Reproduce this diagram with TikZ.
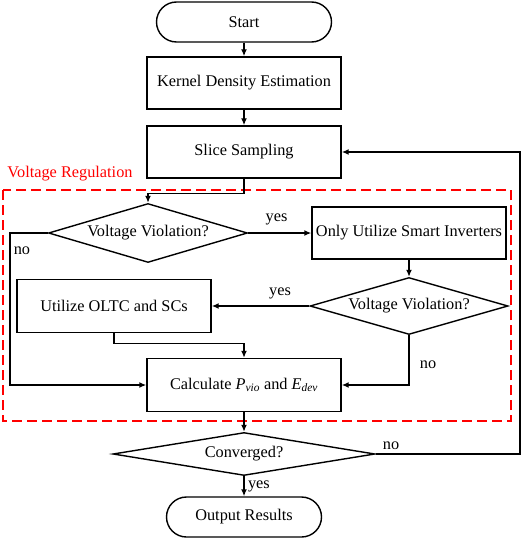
\documentclass[tikz,border=0pt]{standalone}
\usepackage{fontspec}
\setmainfont{Liberation Serif}
\usepackage{tikz}
\usetikzlibrary{arrows.meta}
\usetikzlibrary{shapes.geometric}
\usetikzlibrary{positioning}

\tikzset{
  stepbox/.style={draw=black, line width=1.4pt, minimum width=194pt, minimum height=52pt, inner sep=2pt},
  pill/.style={draw=black, line width=1.4pt, rounded corners=20pt, minimum height=40pt, inner sep=2pt},
  decision/.style={draw=black, line width=1.4pt, diamond, shape aspect=3.4, inner sep=0pt},
  flow/.style={line width=1.4pt, -{Latex[length=7pt,width=6pt]}},
}

\begin{document}
\begin{tikzpicture}[x=1pt, y=-1pt, font=\fontsize{16.3}{19}\selectfont]
    \useasboundingbox (0,0) rectangle (526,540);
    \node[pill, minimum width=175pt] (start) at (244,22) {Start};
    \node[stepbox] (kde) at (244,83) {Kernel Density Estimation};
    \node[stepbox] (slice) at (244,152) {Slice Sampling};
    \node[decision, minimum width=199pt, minimum height=59pt] (vv1) at (148,233) {Voltage Violation?};
    \node[stepbox] (inv) at (409,233) {Only Utilize Smart Inverters};
    \node[decision, minimum width=198pt, minimum height=57pt] (vv2) at (409,306) {Voltage Violation?};
    \node[stepbox, minimum height=53pt] (oltc) at (114,306) {Utilize OLTC and SCs};
    \node[stepbox, minimum height=53pt] (calc) at (244,385) {Calculate \textit{P}\textsubscript{\itshape vio} and \textit{E}\textsubscript{\itshape dev}};
    \node[decision, minimum width=262pt, minimum height=43pt] (conv) at (244,454) {Converged?};
    \node[pill, minimum width=155pt] (out) at (244,517) {Output Results};
    % voltage regulation block
    \draw[red, line width=1.4pt, dash pattern=on 10pt off 5pt] (3,190) rectangle (511,421);
    \node[red] (vreg) at (70,174) {Voltage Regulation};
    % connectors
    \path [flow] (start) edge (kde);
    \path [flow] (kde) edge (slice);
    \draw [flow] (slice.south) -- ++(0,15) -| (vv1.north);
    \draw [flow] (vv1.east) -- node[above, pos=0.45, yshift=4pt] {yes} (inv.west);
    \draw [flow] (vv1.west) -- (10,233) |- (calc.west);
    \node (no1) at (22,251) {no};
    \path [flow] (inv) edge (vv2);
    \draw [flow] (vv2.west) -- node[above, pos=0.3, yshift=3pt] {yes} (oltc.east);
    \draw [flow] (vv2.south) |- (calc.east);
    \node (no2) at (428,365) {no};
    \draw [flow] (oltc.south) -- ++(0,10) -| (calc.north);
    \path [flow] (calc) edge (conv);
    \draw [flow] (conv.east) -- (520,454) |- (slice.east);
    \node (no3) at (391,446) {no};
    \draw [flow] (conv.south) -- node[right] {yes} (out.north);
\end{tikzpicture}
\end{document}
